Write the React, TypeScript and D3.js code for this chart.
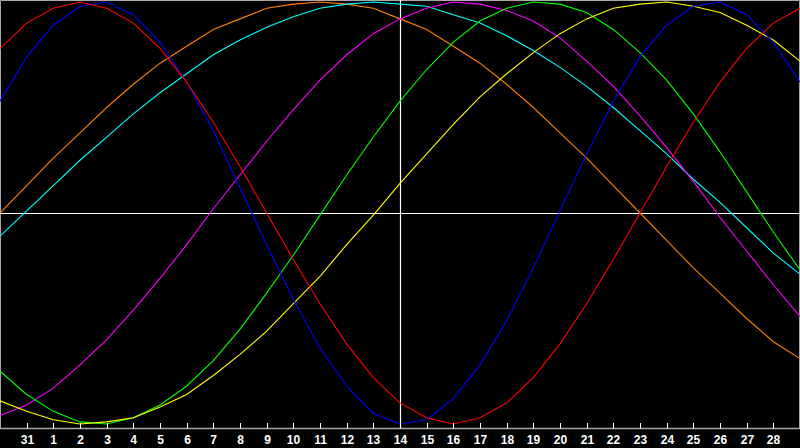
import * as d3 from "d3";

// one value per day, day 30 of the previous month through day 29
const dayLabels = [
  "30", "31", "1", "2", "3", "4", "5", "6", "7", "8", "9", "10", "11", "12", "13",
  "14", "15", "16", "17", "18", "19", "20", "21", "22", "23", "24", "25", "26", "27", "28", "29",
];

const emotional = [
  0.78, 0.9, 0.97, 1, 0.97, 0.9, 0.78, 0.62, 0.43, 0.22, 0, -0.22, -0.43, -0.62, -0.78, -0.9,
  -0.97, -1, -0.97, -0.9, -0.78, -0.62, -0.43, -0.22, 0, 0.22, 0.43, 0.62, 0.78, 0.9, 0.97,
];
const physical = [
  0.53, 0.74, 0.89, 0.98, 1, 0.94, 0.81, 0.62, 0.39, 0.12, -0.15, -0.41, -0.64, -0.82, -0.95, -1,
  -0.98, -0.88, -0.72, -0.51, -0.26, 0.01, 0.28, 0.53, 0.74, 0.89, 0.98, 1, 0.94, 0.81, 0.62,
];
const intellectual = [
  -0.75, -0.86, -0.94, -0.99, -1, -0.97, -0.91, -0.82, -0.7, -0.55, -0.38, -0.2, -0.01, 0.18, 0.36, 0.53,
  0.68, 0.81, 0.91, 0.97, 1, 0.99, 0.95, 0.87, 0.76, 0.63, 0.47, 0.29, 0.1, -0.09, -0.27,
];
const intuitive = [
  -0.96, -0.91, -0.83, -0.72, -0.6, -0.46, -0.31, -0.15, 0.02, 0.18, 0.34, 0.49, 0.63, 0.75, 0.85, 0.92,
  0.97, 1, 0.99, 0.96, 0.91, 0.83, 0.72, 0.6, 0.46, 0.31, 0.15, -0.02, -0.18, -0.34, -0.49,
];
const aesthetic = [
  -0.89, -0.94, -0.98, -1, -0.99, -0.97, -0.92, -0.86, -0.77, -0.67, -0.56, -0.43, -0.3, -0.15, -0.01, 0.14,
  0.28, 0.42, 0.55, 0.66, 0.76, 0.85, 0.92, 0.97, 0.99, 1, 0.98, 0.95, 0.89, 0.82, 0.72,
];
const awareness = [
  0, 0.13, 0.26, 0.38, 0.5, 0.61, 0.71, 0.79, 0.87, 0.92, 0.97, 0.99, 1, 0.99, 0.97, 0.92,
  0.87, 0.79, 0.71, 0.61, 0.5, 0.38, 0.26, 0.13, 0, -0.13, -0.26, -0.38, -0.5, -0.61, -0.69,
];
const spiritual = [
  -0.11, 0.01, 0.13, 0.25, 0.36, 0.47, 0.57, 0.66, 0.75, 0.82, 0.88, 0.93, 0.97, 0.99, 1, 0.99,
  0.98, 0.94, 0.9, 0.84, 0.77, 0.69, 0.6, 0.5, 0.39, 0.28, 0.16, 0.05, -0.07, -0.19, -0.29,
];

const series = [
  { name: "awareness", values: awareness, color: "#ff8000" },
  { name: "spiritual", values: spiritual, color: "#00ffff" },
  { name: "intuitive", values: intuitive, color: "#ff00ff" },
  { name: "intellectual", values: intellectual, color: "#00ff00" },
  { name: "aesthetic", values: aesthetic, color: "#ffff00" },
  { name: "physical", values: physical, color: "#0000ff" },
  { name: "emotional", values: emotional, color: "#ff0000" },
];

const todayIndex = 15;

export default function App() {
  const width = 800;
  const height = 448;
  const axisY = 428.5;

  const x = d3.scaleLinear().domain([0, dayLabels.length - 1]).range([0, width]);
  const y = d3.scaleLinear().domain([-1, 1]).range([424, 2]);

  const line = d3
    .line<number>()
    .x((_, i) => x(i))
    .y((d) => y(d));

  const ticks = d3.range(1, dayLabels.length - 1);

  return (
    <svg
      width={width}
      height={height}
      style={{ position: "fixed", left: 0, top: 0, display: "block" }}
    >
      <rect width={width} height={height} fill="#000" />

      {/* border round the plot */}
      <path
        d={`M0.5,${axisY}V0.5H${width - 0.5}V${axisY}`}
        fill="none"
        stroke="#a8a8a8"
        strokeWidth={1}
      />

      {/* zero line and today */}
      <line x1={0} x2={width} y1={y(0) + 0.5} y2={y(0) + 0.5} stroke="#fff" strokeWidth={1.2} />
      <line
        x1={x(todayIndex) + 0.5}
        x2={x(todayIndex) + 0.5}
        y1={0}
        y2={axisY}
        stroke="#fff"
        strokeWidth={1.2}
      />

      {series.map((s) => (
        <path key={s.name} d={line(s.values) ?? ""} fill="none" stroke={s.color} strokeWidth={1.1} />
      ))}

      {/* day axis */}
      <line x1={0} x2={width} y1={axisY} y2={axisY} stroke="#a8a8a8" strokeWidth={1.3} />
      {ticks.map((i) => (
        <g key={i} transform={`translate(${Math.round(x(i)) + 0.5},0)`}>
          <line y1={423} y2={axisY} stroke="#fff" strokeWidth={1} />
          <text
            y={443.5}
            textAnchor="middle"
            fill="#fff"
            fontFamily="'Liberation Sans', Arial, sans-serif"
            fontWeight="bold"
            fontSize={12}
          >
            {dayLabels[i]}
          </text>
        </g>
      ))}
    </svg>
  );
}
